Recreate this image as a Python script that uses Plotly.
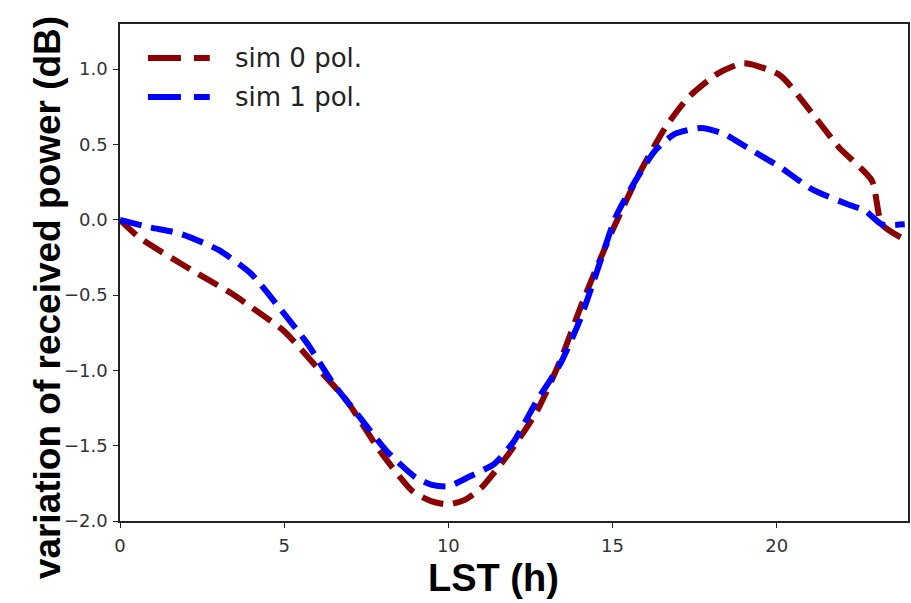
import plotly.graph_objects as go

# ---- data ----
red_hours = [0, 0.6, 2.0, 3.4, 4.0, 5.0, 6.0, 6.9, 7.9, 8.9, 9.5, 10.0, 10.5, 11.0,
             11.85, 12.7, 13.4, 14.1, 15.0, 15.8, 16.6, 17.3, 18.2, 19.0, 20.1,
             21.0, 21.9, 22.9, 23.2, 23.8]
red_vals = [0, -0.12, -0.31, -0.49, -0.58, -0.74, -0.98, -1.2, -1.53, -1.8, -1.87,
            -1.89, -1.86, -1.78, -1.55, -1.27, -0.94, -0.54, -0.07, 0.3, 0.61, 0.81,
            0.97, 1.04, 0.96, 0.73, 0.48, 0.26, -0.03, -0.12]

blue_hours = [0, 0.9, 1.8, 3.0, 4.0, 4.8, 5.7, 6.5, 7.3, 8.1, 9.0, 9.5, 10.0, 10.6,
              11.4, 12.0, 12.7, 13.4, 14.0, 14.5, 15.1, 15.7, 16.3, 16.9, 17.7,
              18.4, 19.1, 20.1, 21.1, 22.2, 22.7, 23.2, 23.9]
blue_vals = [0, -0.05, -0.09, -0.2, -0.36, -0.57, -0.82, -1.09, -1.31, -1.53, -1.71,
             -1.76, -1.77, -1.71, -1.62, -1.47, -1.2, -0.96, -0.67, -0.36, 0.02, 0.26,
             0.46, 0.57, 0.61, 0.57, 0.48, 0.35, 0.2, 0.1, 0.06, -0.03, -0.03]

series_names = ["sim 0 pol.", "sim 1 pol."]
series_colors = ["#8b0000", "#0000ff"]
x_ticks = [0, 5, 10, 15, 20]
y_ticks = [-2.0, -1.5, -1.0, -0.5, 0.0, 0.5, 1.0]

W, H = 911, 603
L, R, T, B = 120, 1, 24, 82
pw = W - L - R
ph = H - T - B

def px_x(p):
    return (p - L) / pw

def px_y(p):
    return 1 - (p - T) / ph

DASH = "22px,10px"

fig = go.Figure()
fig.add_trace(go.Scatter(x=red_hours, y=red_vals, mode="lines", name=series_names[0],
                         line=dict(color=series_colors[0], width=6, dash=DASH,
                                   shape="spline", smoothing=0.6),
                         showlegend=False))
fig.add_trace(go.Scatter(x=blue_hours, y=blue_vals, mode="lines", name=series_names[1],
                         line=dict(color=series_colors[1], width=6, dash=DASH,
                                   shape="spline", smoothing=0.6),
                         showlegend=False))

shapes = []
annotations = []
# manual legend
for i, (nm, col) in enumerate(zip(series_names, series_colors)):
    yy = px_y(58 + i * 39)
    shapes.append(dict(type="line", xref="paper", yref="paper",
                       x0=px_x(148), x1=px_x(210), y0=yy, y1=yy,
                       line=dict(color=col, width=6, dash="33px,13px")))
    annotations.append(dict(text=nm, xref="paper", yref="paper",
                            x=px_x(233), y=yy, xanchor="left", yanchor="middle",
                            showarrow=False,
                            font=dict(family="DejaVu Sans", size=26, color="#222")))

# axis titles
annotations.append(dict(text="<b>variation of received power (dB)</b>", xref="paper",
                        yref="paper", x=px_x(47), y=px_y(298), xanchor="center",
                        yanchor="middle", textangle=-90, showarrow=False,
                        font=dict(family="Liberation Sans", size=37, color="black")))
annotations.append(dict(text="<b>LST (h)</b>", xref="paper", yref="paper",
                        x=px_x(494), y=px_y(578), xanchor="center", yanchor="middle",
                        showarrow=False,
                        font=dict(family="Liberation Sans", size=38, color="black")))

fig.update_layout(
    width=W, height=H,
    margin=dict(l=L, r=R, t=T, b=B, pad=0),
    paper_bgcolor="white", plot_bgcolor="white",
    shapes=shapes, annotations=annotations,
    showlegend=False,
)
fig.update_xaxes(range=[0, 24], tickvals=x_ticks, ticktext=[str(v) for v in x_ticks],
                 showgrid=False, zeroline=False, showline=True, linecolor="#222",
                 linewidth=1.5, mirror=True, ticks="outside", ticklen=5, tickwidth=1.2,
                 tickcolor="#222", ticklabelstandoff=3,
                 tickfont=dict(family="DejaVu Sans", size=18, color="#333"))
fig.update_yaxes(range=[-2.0, 1.3], tickvals=y_ticks,
                 ticktext=[("\u2212" if v < 0 else "") + f"{abs(v):.1f}" for v in y_ticks],
                 showgrid=False, zeroline=False, showline=True, linecolor="#222",
                 linewidth=1.5, mirror=True, ticks="outside", ticklen=5, tickwidth=1.2,
                 tickcolor="#222", ticklabelstandoff=2,
                 tickfont=dict(family="DejaVu Sans", size=18, color="#333"))

fig.write_html("out.html", config={"displayModeBar": False},
               post_script="document.body.style.margin='0';document.body.style.padding='0';")
